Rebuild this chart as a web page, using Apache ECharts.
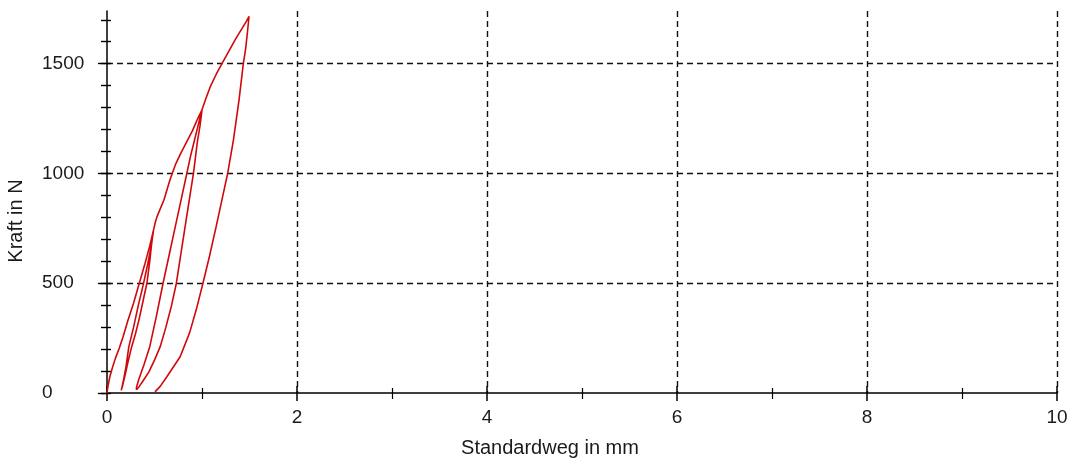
<!DOCTYPE html>
<html>
<head>
<meta charset="utf-8">
<script src="https://cdn.jsdelivr.net/npm/echarts@6/dist/echarts.min.js"></script>
<style>
html,body{margin:0;padding:0;background:#fff;}
#chart{width:1072px;height:462px;}
</style>
</head>
<body>
<div id="chart"></div>
<script>
// Axis ticks / labels
const xLabelValues = [0, 2, 4, 6, 8, 10];
const yLabelValues = [0, 500, 1000, 1500];
const yTickValues = [0, 100, 200, 300, 400, 500, 600, 700, 800, 900, 1000, 1100, 1200, 1300, 1400, 1500, 1600, 1700];
const xTitle = 'Standardweg in mm';
const yTitle = 'Kraft in N';

// Measured path segments (Standardweg in mm, Kraft in N)
const load1Weg   = [0, 0.01, 0.03, 0.06, 0.09, 0.13, 0.17, 0.22, 0.28, 0.34, 0.40, 0.45, 0.49];
const load1Kraft = [0, 30, 74, 120, 160, 205, 257, 330, 410, 500, 590, 670, 743];

const unload1Weg   = [0.47, 0.45, 0.42, 0.38, 0.34, 0.30, 0.26, 0.22, 0.19, 0.165, 0.15];
const unload1Kraft = [680, 600, 500, 420, 340, 270, 211, 140, 80, 35, 12];

const reload2Weg   = [0.17, 0.20, 0.23, 0.28, 0.33, 0.38, 0.43, 0.47, 0.49, 0.51, 0.53, 0.55, 0.60, 0.663, 0.72, 0.78, 0.84, 0.90, 0.95, 1.0];
const reload2Kraft = [50, 120, 211, 300, 400, 490, 590, 680, 743, 780, 807, 808, 880, 971, 1040, 1095, 1145, 1195, 1245, 1290];

const unload2Weg   = [0.98, 0.95, 0.93, 0.91, 0.87, 0.83, 0.78, 0.73, 0.68, 0.62, 0.56, 0.50, 0.44, 0.38, 0.34, 0.31, 0.29];
const unload2Kraft = [1220, 1140, 1070, 1000, 890, 780, 640, 500, 400, 300, 211, 150, 95, 56, 30, 15, 8];

const reload3Weg   = [0.31, 0.33, 0.39, 0.45, 0.52, 0.59, 0.66, 0.72, 0.78, 0.84, 0.88, 0.92, 0.96, 1.0, 1.04, 1.09, 1.15, 1.21, 1.28, 1.35, 1.42, 1.47, 1.495];
const reload3Kraft = [25, 56, 130, 211, 350, 500, 640, 760, 880, 1000, 1080, 1150, 1220, 1290, 1340, 1398, 1452, 1500, 1555, 1610, 1660, 1695, 1715];

const unload3Weg   = [1.48, 1.46, 1.435, 1.39, 1.33, 1.27, 1.22, 1.15, 1.08, 1.01, 0.94, 0.87, 0.77, 0.63, 0.56, 0.52, 0.505];
const unload3Kraft = [1650, 1570, 1500, 1335, 1150, 1000, 900, 760, 625, 500, 380, 275, 165, 74, 30, 12, 5];

const segments = [
  [load1Weg, load1Kraft],
  [unload1Weg, unload1Kraft],
  [reload2Weg, reload2Kraft],
  [unload2Weg, unload2Kraft],
  [reload3Weg, reload3Kraft],
  [unload3Weg, unload3Kraft]
];
const pathData = [];
segments.forEach(([w, k]) => w.forEach((v, i) => pathData.push([v, k[i]])));

const FONT = '"Liberation Sans", Arial, sans-serif';
const INK = '#000';
const TXT = '#1a1a1a';
const dash = { type: [6, 4], color: '#111', width: 1.4 };
const plain = v => String(v);

const chart = echarts.init(document.getElementById('chart'), null, { renderer: 'canvas' });
chart.setOption({
  animation: false,
  backgroundColor: '#fff',
  grid: { left: 107, right: 15, top: 11, bottom: 69, containLabel: false },
  xAxis: [
    {
      type: 'value', min: 0, max: 10, interval: 2, position: 'bottom',
      axisLine: { onZero: false, lineStyle: { color: INK, width: 1.5 } },
      axisTick: { show: true, length: 8, lineStyle: { color: INK, width: 1.5 } },
      minorTick: { show: true, splitNumber: 2, length: 6, lineStyle: { color: INK, width: 1.2 } },
      axisLabel: { customValues: xLabelValues, formatter: plain, margin: 15, fontSize: 19, color: TXT, fontFamily: FONT },
      splitLine: { show: true, showMinLine: false, lineStyle: dash }
    },
    {
      type: 'value', min: 0, max: 10, interval: 2, position: 'bottom',
      axisLine: { show: false, onZero: false },
      axisTick: { show: true, inside: true, length: 7, lineStyle: { color: INK, width: 1.5 } },
      minorTick: { show: true, splitNumber: 2, length: 5, lineStyle: { color: INK, width: 1.2 } },
      axisLabel: { show: false },
      splitLine: { show: false }
    }
  ],
  yAxis: [
    {
      type: 'value', min: 0, max: 1740, position: 'left',
      axisLine: { onZero: false, lineStyle: { color: INK, width: 1.5 } },
      axisTick: { show: true, customValues: yTickValues, length: 6, lineStyle: { color: INK, width: 1.4 } },
      axisLabel: { customValues: yLabelValues, formatter: plain, align: 'left', margin: 65, fontSize: 19, color: TXT, fontFamily: FONT },
      splitLine: { show: false }
    },
    {
      type: 'value', min: 0, max: 1740, position: 'left',
      axisLine: { show: false, onZero: false },
      axisTick: { show: true, customValues: yTickValues, inside: true, length: 4, lineStyle: { color: INK, width: 1.4 } },
      axisLabel: { show: false },
      splitLine: { show: false }
    },
    {
      type: 'value', min: 0, max: 1740, position: 'left',
      axisLine: { show: false, onZero: false },
      axisTick: { show: true, customValues: yLabelValues, length: 9, lineStyle: { color: INK, width: 1.4 } },
      axisLabel: { show: false },
      splitLine: { show: true, showMinLine: false, lineStyle: dash }
    }
  ],
  graphic: [
    { type: 'text', x: 550, y: 448, style: { text: xTitle, font: '20px ' + FONT, fill: TXT, align: 'center', verticalAlign: 'middle' } },
    { type: 'text', x: 16, y: 221, rotation: Math.PI / 2, style: { text: yTitle, font: '20px ' + FONT, fill: TXT, align: 'center', verticalAlign: 'middle' } }
  ],
  series: [
    {
      type: 'line', xAxisIndex: 0, yAxisIndex: 0,
      data: pathData, showSymbol: false, smooth: false,
      lineStyle: { color: '#d0080c', width: 1.6 },
      z: 5
    }
  ]
});
</script>
</body>
</html>
